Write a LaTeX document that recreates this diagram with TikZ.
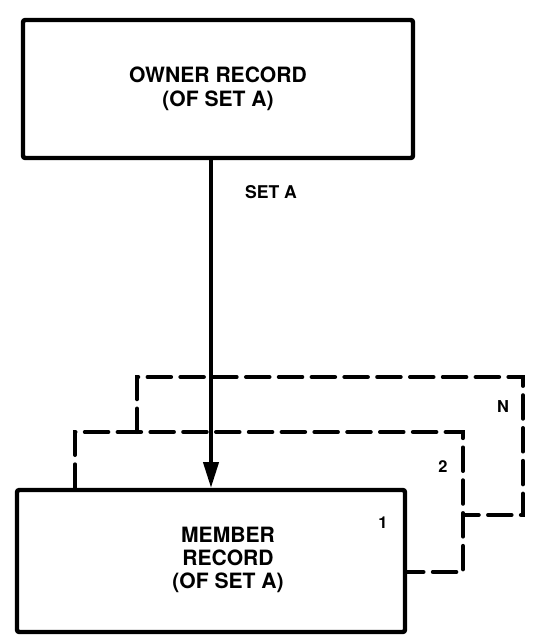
\documentclass[tikz,border=0pt]{standalone}
\usepackage{fontspec}
\setmainfont{TeX Gyre Heros}
\usetikzlibrary{arrows.meta}

\begin{document}
\begin{tikzpicture}[x=0.03cm, y=-0.03cm, >={Triangle[length=22pt, width=13pt]},
    record/.style={rectangle, draw, line width=3.8pt, rounded corners=2pt,
        align=center, font=\bfseries\fontsize{18}{20.5}\selectfont},
    copyline/.style={line width=3.5pt, dash pattern=on 20pt off 8pt, line cap=round},
    tag/.style={font=\bfseries\fontsize{14}{16}\selectfont}]

    \useasboundingbox (0,0) rectangle (547,643);

    % RECORD NODES
    \node[record, minimum width=11.7cm, minimum height=4.14cm]
        (owner) at (218,89)
        {OWNER RECORD \\ (OF SET A)};

    \node[record, minimum width=11.64cm, minimum height=4.26cm]
        (member) at (211,561) {};
    \node[font=\bfseries\fontsize{18}{19.5}\selectfont, align=center]
        (membertext) at (228,560)
        {MEMBER \\ RECORD \\ (OF SET A)};

    % FURTHER MEMBER OCCURRENCES
    \draw[copyline]
        (member.north -| 75,0) |- (463,432) |- (member.east |- 0,572);
    \draw[copyline]
        (137,432) |- (523,377) |- (463,515);

    % OCCURRENCE NUMBERS
    \node[tag] (one) at (383,523) {1};
    \node[tag] (two) at (443,467) {2};
    \node[tag] (many) at (503,407) {N};

    % SET LINK
    \draw[->, line width=3pt]
        (owner.south -| member.north) --
        (member.north);
    \node[font=\bfseries\fontsize{15}{18}\selectfont, anchor=west]
        (setname) at (241,192) {SET A};

\end{tikzpicture}
\end{document}
